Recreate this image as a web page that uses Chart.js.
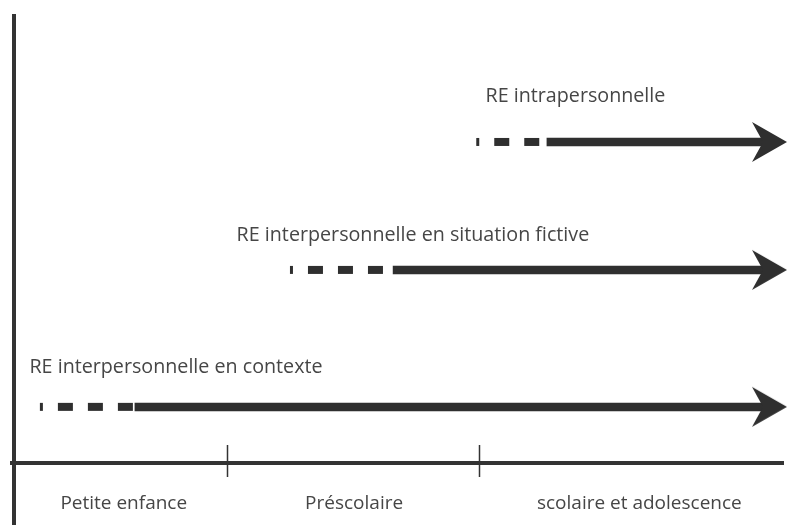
<!DOCTYPE html>
<html>
<head>
<meta charset="utf-8">
<script src="https://cdn.jsdelivr.net/npm/chart.js@4.4.0/dist/chart.umd.min.js"></script>
<style>
  html, body { margin: 0; padding: 0; background: #fff; }
  #wrap { width: 792px; height: 525px; }
</style>
</head>
<body>
<div id="wrap"><canvas id="myChart"></canvas></div>
<script>
//stages along the bottom axis
const stages = ['Petite enfance', 'Préscolaire', 'scolaire et adolescence'];
const stageCenters = [14.2, 44.0, 80.9];
const stageBounds = [27.6, 60.1];

//the three arrows (top to bottom)
const arrowNames = ['RE intrapersonnelle', 'RE interpersonnelle en situation fictive', 'RE interpersonnelle en contexte'];
const arrowLevels = [71.5, 43.0, 12.5];
const dashStarts = [59.8, 35.7, 3.35];
const solidStarts = [68.9, 49.0, 15.6];
const lineEnds = [97, 97, 97];
const arrowTips = [100, 100, 100];
const nameX = [61.0, 28.8, 2.0];
const nameY = [81.7, 50.8, 21.4];

const ink = '#2f2f2f';
const textInk = '#464646';
const stageFont = '19px "Open Sans"';
const nameFont = '19.7px "Open Sans"';

//arrow head as a point style, tip sits on the point
const makeHead = () => {
    const c = document.createElement('canvas');
    c.width = 72;
    c.height = 46;
    const g = c.getContext('2d');
    g.fillStyle = ink;
    g.beginPath();
    g.moveTo(36, 23);
    g.lineTo(1, 3);
    g.lineTo(12, 23);
    g.lineTo(1, 43);
    g.closePath();
    g.fill();
    return c;
}
const head = makeHead();

let datasets = [];
datasets.push({
    type: 'scatter',
    data: arrowTips.map((x, i) => ({x: x, y: arrowLevels[i]})),
    pointStyle: head,
    pointRadius: 3,
    clip: false
});
for (let i = 0; i < arrowNames.length; i++) {
    datasets.push({
        label: arrowNames[i],
        data: [{x: solidStarts[i], y: arrowLevels[i]}, {x: lineEnds[i], y: arrowLevels[i]}],
        borderColor: ink,
        borderWidth: 8.5,
        borderCapStyle: 'butt',
        pointRadius: 0
    });
    datasets.push({
        label: arrowNames[i] + ' (début)',
        data: [{x: dashStarts[i], y: arrowLevels[i]}, {x: solidStarts[i], y: arrowLevels[i]}],
        borderColor: ink,
        borderWidth: 8,
        borderCapStyle: 'butt',
        borderDash: [15, 15],
        borderDashOffset: 12,
        pointRadius: 0
    });
}

//axes, tick marks and all the text
const drawExtras = {
    id: 'drawExtras',
    afterDatasetsDraw(chart) {
        const ctx = chart.ctx;
        const xs = chart.scales.x;
        const ys = chart.scales.y;
        const x0 = xs.getPixelForValue(0);
        const y0 = ys.getPixelForValue(0);
        ctx.save();
        ctx.strokeStyle = '#333333';
        ctx.lineWidth = 4;
        ctx.beginPath();
        ctx.moveTo(x0, chart.chartArea.top);
        ctx.lineTo(x0, chart.height);
        ctx.moveTo(x0 - 4, y0);
        ctx.lineTo(xs.getPixelForValue(100) - 3, y0);
        ctx.stroke();

        ctx.lineWidth = 1.5;
        stageBounds.forEach(b => {
            const px = Math.round(xs.getPixelForValue(b)) + 0.5;
            ctx.beginPath();
            ctx.moveTo(px, y0 - 18);
            ctx.lineTo(px, y0 + 14);
            ctx.stroke();
        });

        ctx.fillStyle = textInk;
        ctx.textBaseline = 'middle';
        ctx.textAlign = 'center';
        ctx.font = stageFont;
        stages.forEach((s, i) => {
            ctx.fillText(s, xs.getPixelForValue(stageCenters[i]), y0 + 41);
        });
        ctx.textAlign = 'left';
        ctx.font = nameFont;
        arrowNames.forEach((n, i) => {
            ctx.fillText(n, xs.getPixelForValue(nameX[i]), ys.getPixelForValue(nameY[i]));
        });
        ctx.restore();
    }
};

const myChart = new Chart(document.getElementById('myChart'), {
    type: 'line',
    data: {datasets: datasets},
    options: {
        responsive: true,
        maintainAspectRatio: false,
        animation: false,
        layout: {padding: {left: 14, right: 1, top: 14, bottom: 62}},
        plugins: {legend: {display: false}, tooltip: {enabled: false}},
        scales: {
            x: {type: 'linear', min: 0, max: 100, display: false},
            y: {type: 'linear', min: 0, max: 100, display: false}
        }
    },
    plugins: [drawExtras]
});
</script>
</body>
</html>
